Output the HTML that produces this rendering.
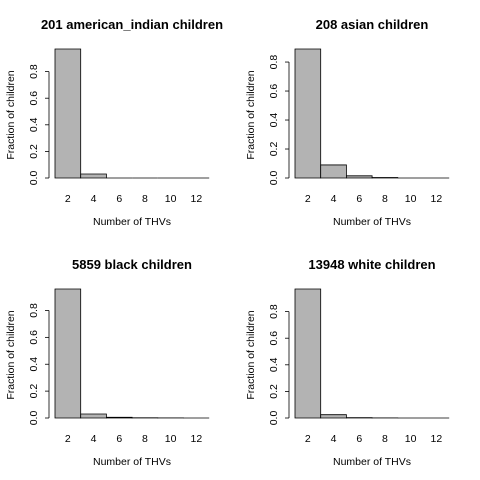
<!DOCTYPE html>
<html><head><meta charset="utf-8"><style>
body{margin:0;background:#fff;}
svg{display:block;font-family:"Liberation Sans",Arial,sans-serif;}
</style></head><body>
<svg id="c" width="480" height="480"></svg>
<script>
const titles=["201 american_indian children","208 asian children","5859 black children","13948 white children"];
const binStarts=[1,3,5,7,9,11];
const indianVals=[0.97,0.03,0.0,0.0,0.0,0.0];
const asianVals=[0.89,0.09,0.015,0.003,0.0,0.0];
const blackVals=[0.96,0.03,0.005,0.002,0.001,0.0];
const whiteVals=[0.97,0.025,0.003,0.001,0.0,0.0];
const xTicks=[2,4,6,8,10,12];
const yTicks=[0,0.2,0.4,0.6,0.8];
const series=[indianVals,asianVals,blackVals,whiteVals];
const NS="http://www.w3.org/2000/svg";
const svg=document.getElementById('c');
function mk(t,a,p){const e=document.createElementNS(NS,t);for(const k in a)e.setAttribute(k,a[k]);(p||svg).appendChild(e);return e;}
series.forEach((vals,i)=>{
  const ox=(i%2)*240, oy=Math.floor(i/2)*240;
  const g=mk('g',{transform:`translate(${ox},${oy})`});
  
  
  const max=Math.max(...vals);
  const X=v=>55+(v-1)*12.85;
  const Y=v=>178-v*(129/max);
  const t=mk('text',{x:132,y:29,'text-anchor':'middle','font-size':13,'font-weight':'bold'},g);
  t.textContent=titles[i];
  
  
  vals.forEach((v,j)=>{
    const x0=X(binStarts[j]), x1=X(binStarts[j]+2), y0=Y(0), y1=Y(v);
    const r=mk('path',{d:`M${x0},${y0}L${x0},${y1}L${x1},${y1}L${x1},${y0}Z`,fill:'#b3b3b3',stroke:'#000','stroke-width':0.8},g);
    
    
  });
  mk('line',{x1:49,x2:49,y1:Y(0),y2:Y(0.8),stroke:'#000','stroke-width':0.8},g);
  yTicks.forEach(v=>{
    mk('line',{x1:45,x2:49,y1:Y(v),y2:Y(v),stroke:'#000','stroke-width':0.8},g);
    const l=mk('text',{transform:`translate(37,${Y(v)}) rotate(-90)`,'text-anchor':'middle','font-size':10.5},g);
    l.textContent=v.toFixed(1);
    
    
  });
  xTicks.forEach(v=>{
    const l=mk('text',{x:X(v),y:202,'text-anchor':'middle','font-size':10.5},g);
    l.textContent=v;
    
    
  });
  const xl=mk('text',{x:132,y:225,'text-anchor':'middle','font-size':10.5},g);
  xl.textContent='Number of THVs';
  
  
  const yl=mk('text',{transform:'translate(14,115) rotate(-90)','text-anchor':'middle','font-size':10.5},g);
  yl.textContent='Fraction of children';
  
  
});
</script>
</body></html>
